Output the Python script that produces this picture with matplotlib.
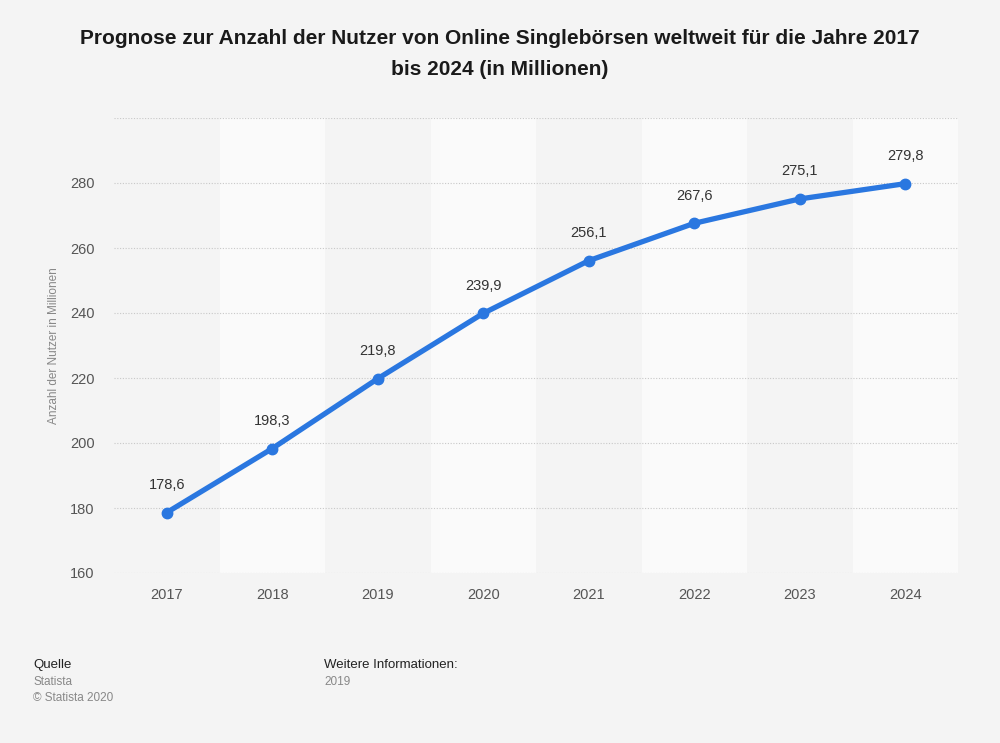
import matplotlib
matplotlib.use("Agg")
import matplotlib.pyplot as plt

years = ["2017", "2018", "2019", "2020", "2021", "2022", "2023", "2024"]
values = [178.6, 198.3, 219.8, 239.9, 256.1, 267.6, 275.1, 279.8]
yticks = [160, 180, 200, 220, 240, 260, 280]

plt.rcParams['font.family'] = ['Liberation Sans', 'DejaVu Sans']

fig = plt.figure(figsize=(10, 7.43), dpi=100)
fig.patch.set_facecolor('#f4f4f4')
ax = fig.add_axes([0.114, 1 - 573/743, 0.844, (573 - 118)/743])
ax.set_facecolor('#f4f4f4')

x = list(range(len(years)))
for i in x:
    if i % 2 == 1:
        ax.axvspan(i - 0.5, i + 0.5, color='#fafafa', zorder=0, lw=0)

ax.set_xlim(-0.5, len(years) - 0.5)
ax.set_ylim(160, 300)
for yv in yticks + [300]:
    ax.axhline(yv, color='#c8c8c8', lw=0.8, ls=(0, (1, 1.5)), zorder=1)

ax.plot(x, values, color='#2a77e0', lw=3.8, marker='o', ms=7.5, zorder=3,
        solid_capstyle='round', solid_joinstyle='round')
for xi, v in zip(x, values):
    ax.annotate(f"{v:.1f}".replace('.', ','), (xi, v), xytext=(0, 20),
                textcoords='offset points', ha='center', va='center',
                fontsize=10.5, color='#333333')

ax.set_xticks(x)
ax.set_xticklabels(years)
ax.set_yticks(yticks)
ax.tick_params(axis='both', length=0, labelsize=10.5, labelcolor='#555555')
ax.tick_params(axis='x', pad=11)
ax.tick_params(axis='y', pad=14)
for s in ax.spines.values():
    s.set_visible(False)
ax.set_ylabel('Anzahl der Nutzer in Millionen', fontsize=8.5, color='#888888', labelpad=7)

fig.text(0.5, 1 - 54/743, 'Prognose zur Anzahl der Nutzer von Online Singlebörsen weltweit für die Jahre 2017\nbis 2024 (in Millionen)',
         ha='center', va='center', fontsize=15, fontweight='bold', color='#1a1a1a', linespacing=1.75)

fig.text(0.033, 1 - 665/743, 'Quelle', fontsize=9.5, color='#222222', va='center')
fig.text(0.033, 1 - 682/743, 'Statista', fontsize=8.5, color='#888888', va='center')
fig.text(0.033, 1 - 698/743, '© Statista 2020', fontsize=8.5, color='#888888', va='center')
fig.text(0.324, 1 - 665/743, 'Weitere Informationen:', fontsize=9.5, color='#222222', va='center')
fig.text(0.324, 1 - 682/743, '2019', fontsize=8.5, color='#888888', va='center')

fig.savefig('out.png', dpi=100, facecolor=fig.get_facecolor())
